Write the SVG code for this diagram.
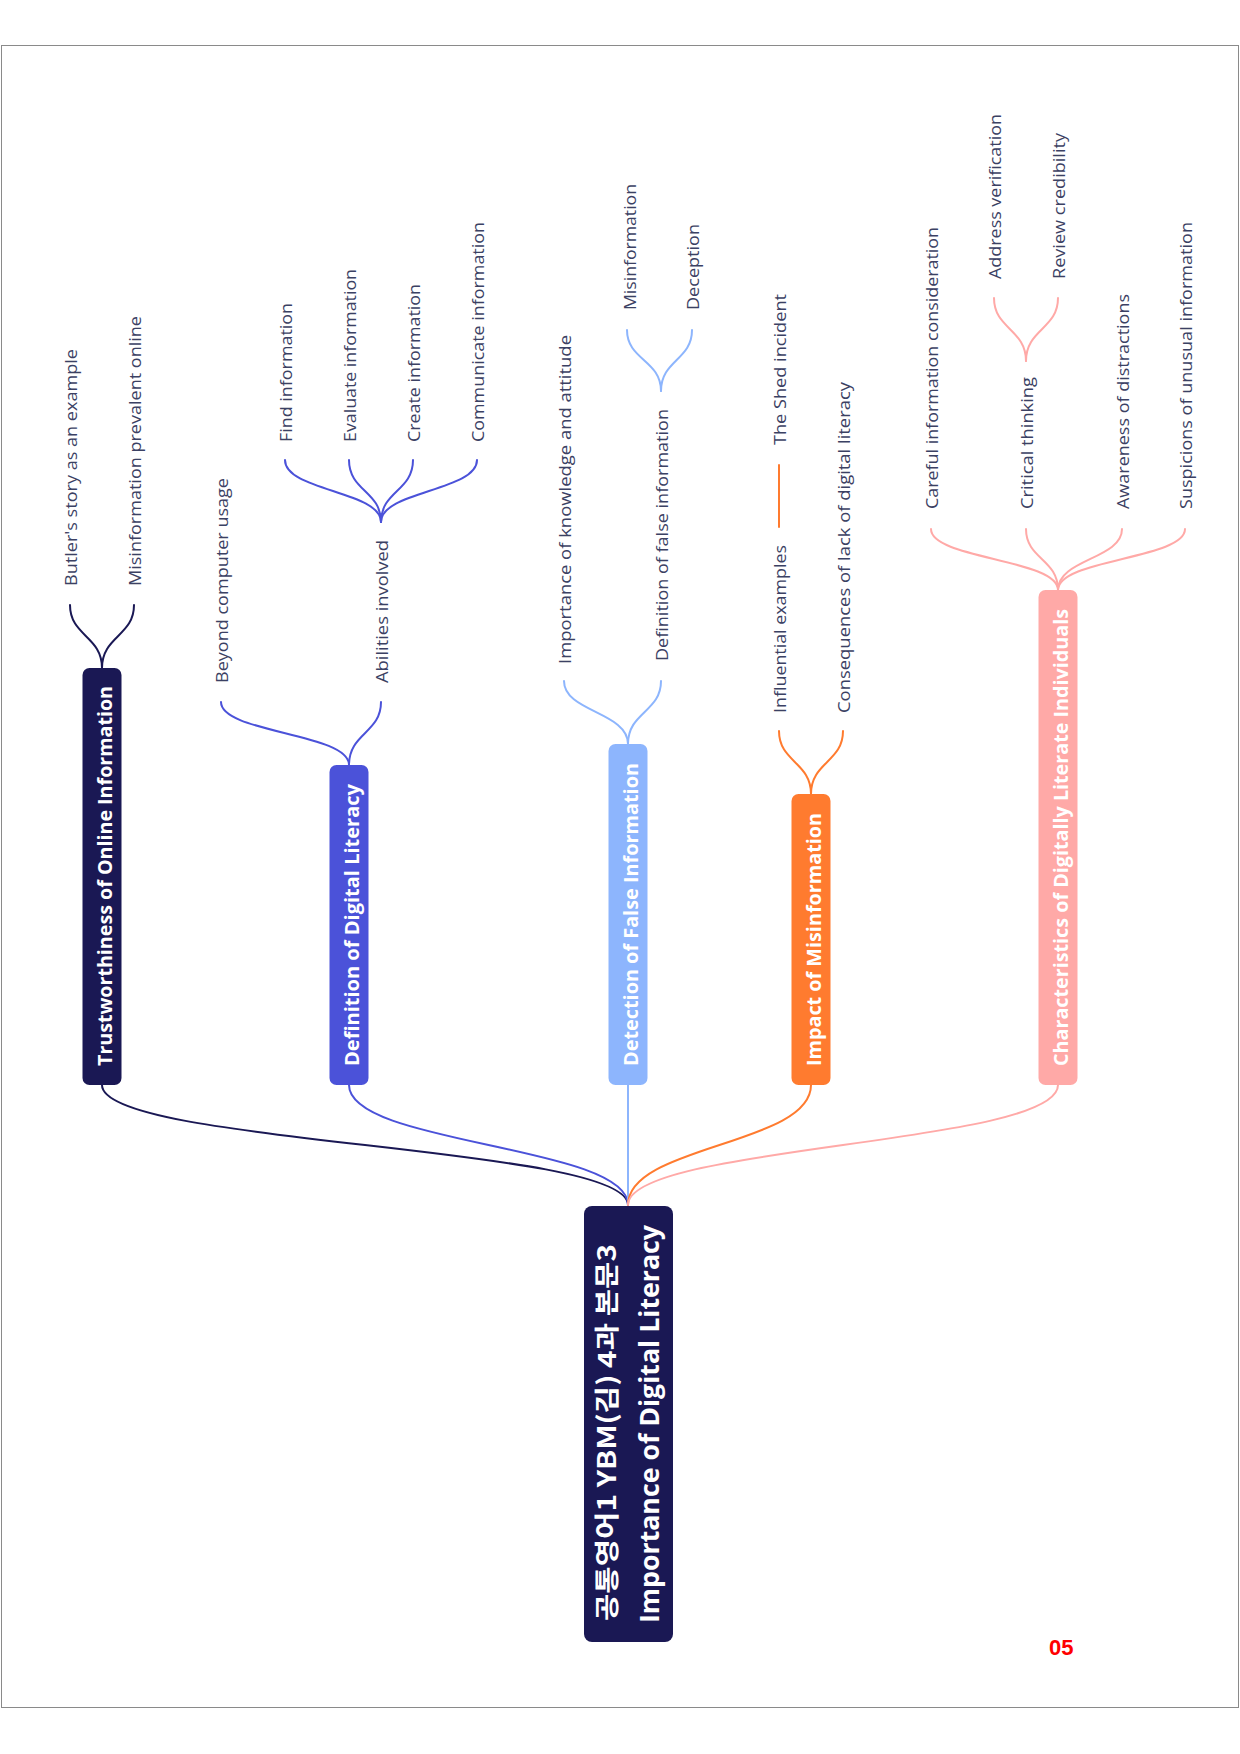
<svg xmlns="http://www.w3.org/2000/svg" width="1240" height="1754" viewBox="0 0 1240 1754">
<style>
.sub{font-family:"Open Sans","Noto Sans",sans-serif;font-size:17px;fill:#3b4163}
.br{font-family:"Open Sans","Noto Sans",sans-serif;font-size:19.5px;font-weight:bold;fill:#ffffff}
.root{font-family:"Open Sans","Noto Sans CJK KR",sans-serif;font-weight:bold;fill:#ffffff}
.c{fill:none;stroke-width:2;stroke-linecap:round}
.navy{stroke:#1a1854}.blue{stroke:#4b52d9}.lblue{stroke:#8db5fd}.orange{stroke:#ff7b2f}.pink{stroke:#ffa9a7}
</style>
<rect x="1.5" y="45.5" width="1237" height="1662" fill="none" stroke="#8a8a8a" stroke-width="1"/>
<g id="connectors">
  <path class="c navy" d="M628,1205 C628,1145 102,1145 102,1085"/>
  <path class="c blue" d="M628,1205 C628,1145 349,1145 349,1085"/>
  <path class="c lblue" d="M628,1205 L628,1085"/>
  <path class="c orange" d="M628,1205 C628,1145 811,1145 811,1085"/>
  <path class="c pink" d="M628,1205 C628,1145 1058,1145 1058,1085"/>
  <path class="c navy" d="M102,668 C102,636 70,636 70,605"/>
  <path class="c navy" d="M102,668 C102,636 134,636 134,605"/>
  <path class="c blue" d="M349,765 C349,733 221,733 221,702"/>
  <path class="c blue" d="M349,765 C349,733 381,733 381,702"/>
  <path class="c blue" d="M381,522 C381,491 285,491 285,460"/>
  <path class="c blue" d="M381,522 C381,491 349,491 349,460"/>
  <path class="c blue" d="M381,522 C381,491 413,491 413,460"/>
  <path class="c blue" d="M381,522 C381,491 477,491 477,460"/>
  <path class="c lblue" d="M628,744 C628,712 564,712 564,681"/>
  <path class="c lblue" d="M628,744 C628,712 661,712 661,681"/>
  <path class="c lblue" d="M661,391 C661,360 627,360 627,330"/>
  <path class="c lblue" d="M661,391 C661,360 692,360 692,330"/>
  <path class="c orange" d="M811,794 C811,762 779,762 779,731"/>
  <path class="c orange" d="M811,794 C811,762 843,762 843,731"/>
  <path class="c orange" d="M779,527 L779,465"/>
  <path class="c pink" d="M1058,590 C1058,559 931,559 931,529"/>
  <path class="c pink" d="M1058,590 C1058,559 1026,559 1026,529"/>
  <path class="c pink" d="M1058,590 C1058,559 1122,559 1122,529"/>
  <path class="c pink" d="M1058,590 C1058,559 1185,559 1185,529"/>
  <path class="c pink" d="M1026,361 C1026,329 994,329 994,298"/>
  <path class="c pink" d="M1026,361 C1026,329 1058,329 1058,298"/>
</g>
<g id="root">
  <rect x="584" y="1206" width="89" height="436" rx="8" fill="#1a1854"/>
  <text class="root" font-size="25" transform="translate(616,1621) rotate(-90)" textLength="377" lengthAdjust="spacingAndGlyphs" style="font-family:'Noto Sans CJK KR','Open Sans',sans-serif">공통영어1 YBM(김) 4과 본문3</text>
  <text class="root" font-size="26" transform="translate(659,1623) rotate(-90)" textLength="398" lengthAdjust="spacingAndGlyphs">Importance of Digital Literacy</text>
</g>
<g id="b1">
  <rect x="82.5" y="668" width="39" height="417" rx="7" fill="#1a1854"/>
  <text class="br" transform="translate(112,1066) rotate(-90)" textLength="380" lengthAdjust="spacingAndGlyphs">Trustworthiness of Online Information</text>
</g>
<g id="b1s1"><text class="sub" transform="translate(77,586) rotate(-90)" textLength="237" lengthAdjust="spacingAndGlyphs">Butler's story as an example</text></g>
<g id="b1s2"><text class="sub" transform="translate(141,586) rotate(-90)" textLength="270" lengthAdjust="spacingAndGlyphs">Misinformation prevalent online</text></g>
<g id="b2">
  <rect x="329.5" y="765" width="39" height="320" rx="7" fill="#4b52d9"/>
  <text class="br" transform="translate(359,1066) rotate(-90)" textLength="282" lengthAdjust="spacingAndGlyphs">Definition of Digital Literacy</text>
</g>
<g id="b2s1"><text class="sub" transform="translate(228,683) rotate(-90)" textLength="205" lengthAdjust="spacingAndGlyphs">Beyond computer usage</text></g>
<g id="b2s2"><text class="sub" transform="translate(388,683) rotate(-90)" textLength="143" lengthAdjust="spacingAndGlyphs">Abilities involved</text></g>
<g id="b2s2a"><text class="sub" transform="translate(292,442) rotate(-90)" textLength="139" lengthAdjust="spacingAndGlyphs">Find information</text></g>
<g id="b2s2b"><text class="sub" transform="translate(356,442) rotate(-90)" textLength="173" lengthAdjust="spacingAndGlyphs">Evaluate information</text></g>
<g id="b2s2c"><text class="sub" transform="translate(420,442) rotate(-90)" textLength="158" lengthAdjust="spacingAndGlyphs">Create information</text></g>
<g id="b2s2d"><text class="sub" transform="translate(484,442) rotate(-90)" textLength="220" lengthAdjust="spacingAndGlyphs">Communicate information</text></g>
<g id="b3">
  <rect x="608.5" y="744" width="39" height="341" rx="7" fill="#8db5fd"/>
  <text class="br" transform="translate(638,1066) rotate(-90)" textLength="303" lengthAdjust="spacingAndGlyphs">Detection of False Information</text>
</g>
<g id="b3s1"><text class="sub" transform="translate(571,664) rotate(-90)" textLength="329" lengthAdjust="spacingAndGlyphs">Importance of knowledge and attitude</text></g>
<g id="b3s2"><text class="sub" transform="translate(668,661) rotate(-90)" textLength="252" lengthAdjust="spacingAndGlyphs">Definition of false information</text></g>
<g id="b3s2a"><text class="sub" transform="translate(636,310) rotate(-90)" textLength="126" lengthAdjust="spacingAndGlyphs">Misinformation</text></g>
<g id="b3s2b"><text class="sub" transform="translate(699,310) rotate(-90)" textLength="86" lengthAdjust="spacingAndGlyphs">Deception</text></g>
<g id="b4">
  <rect x="791.5" y="794" width="39" height="291" rx="7" fill="#ff7b2f"/>
  <text class="br" transform="translate(821,1066) rotate(-90)" textLength="253" lengthAdjust="spacingAndGlyphs">Impact of Misinformation</text>
</g>
<g id="b4s1"><text class="sub" transform="translate(786,713) rotate(-90)" textLength="168" lengthAdjust="spacingAndGlyphs">Influential examples</text></g>
<g id="b4s1a"><text class="sub" transform="translate(786,445) rotate(-90)" textLength="151" lengthAdjust="spacingAndGlyphs">The Shed incident</text></g>
<g id="b4s2"><text class="sub" transform="translate(850,713) rotate(-90)" textLength="331" lengthAdjust="spacingAndGlyphs">Consequences of lack of digital literacy</text></g>
<g id="b5">
  <rect x="1038.5" y="590" width="39" height="495" rx="7" fill="#ffa9a7"/>
  <text class="br" transform="translate(1068,1066) rotate(-90)" textLength="457" lengthAdjust="spacingAndGlyphs">Characteristics of Digitally Literate Individuals</text>
</g>
<g id="b5s1"><text class="sub" transform="translate(938,509) rotate(-90)" textLength="282" lengthAdjust="spacingAndGlyphs">Careful information consideration</text></g>
<g id="b5s2"><text class="sub" transform="translate(1033,509) rotate(-90)" textLength="132" lengthAdjust="spacingAndGlyphs">Critical thinking</text></g>
<g id="b5s2a"><text class="sub" transform="translate(1001,279) rotate(-90)" textLength="165" lengthAdjust="spacingAndGlyphs">Address verification</text></g>
<g id="b5s2b"><text class="sub" transform="translate(1065,279) rotate(-90)" textLength="146" lengthAdjust="spacingAndGlyphs">Review credibility</text></g>
<g id="b5s3"><text class="sub" transform="translate(1129,509) rotate(-90)" textLength="215" lengthAdjust="spacingAndGlyphs">Awareness of distractions</text></g>
<g id="b5s4"><text class="sub" transform="translate(1192,509) rotate(-90)" textLength="287" lengthAdjust="spacingAndGlyphs">Suspicions of unusual information</text></g>
<text x="1049" y="1655" font-family="'Liberation Sans',Arial,sans-serif" font-size="22" font-weight="bold" fill="#ff0000">05</text>
</svg>
